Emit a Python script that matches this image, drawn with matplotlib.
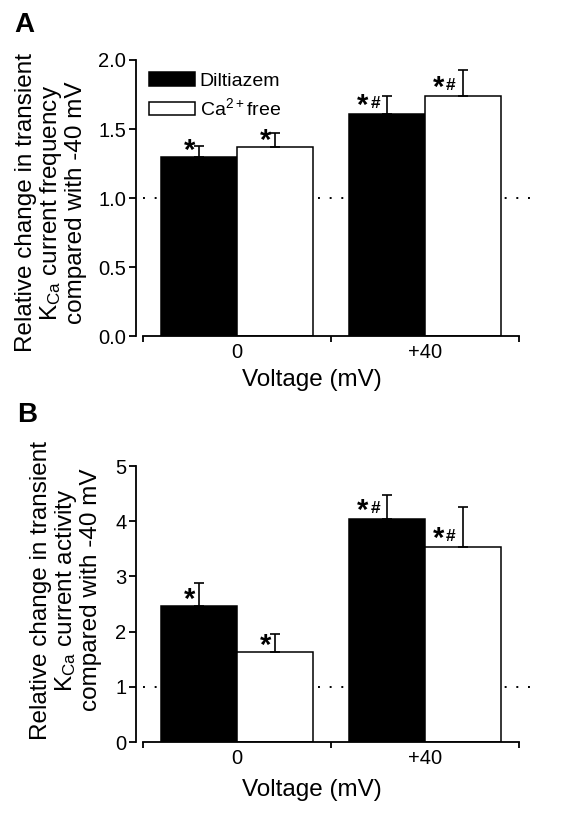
import matplotlib.pyplot as plt
import numpy as np
from matplotlib.patches import Patch

plt.rcParams['font.family'] = ['Liberation Sans', 'DejaVu Sans']
plt.rcParams['mathtext.default'] = 'regular'

groups = ["0", "+40"]
series = ["Diltiazem", "Ca$^{2+}$free"]

# panel A: frequency
freq_dil = [1.30, 1.61]
freq_dil_err = [0.08, 0.13]
freq_ca = [1.37, 1.74]
freq_ca_err = [0.10, 0.19]
freq_marks_dil = ["*", "*#"]
freq_marks_ca = ["*", "*#"]

# panel B: activity
act_dil = [2.46, 4.04]
act_dil_err = [0.42, 0.43]
act_ca = [1.63, 3.53]
act_ca_err = [0.33, 0.73]
act_marks_dil = ["*", "*#"]
act_marks_ca = ["*", "*#"]


def mark(ax, xc, v, m):
    # star (and hash) just left of the error bar, above the bar top
    if '#' in m:
        ax.annotate('#', xy=(xc, v), xytext=(-7, 6), textcoords='offset pixels',
                    ha='right', va='baseline', fontsize=12.5, fontweight='bold')
        ax.annotate('*', xy=(xc, v), xytext=(-19, 0), textcoords='offset pixels',
                    ha='right', va='baseline', fontsize=21, fontweight='bold')
    else:
        ax.annotate('*', xy=(xc, v), xytext=(-4, -2), textcoords='offset pixels',
                    ha='right', va='baseline', fontsize=21, fontweight='bold')


def draw_panel(ax, dil, dil_err, ca, ca_err, m_dil, m_ca, ymax, yticks, fmt):
    x = np.arange(len(groups))
    w = 0.404
    ax.bar(x - w / 2, dil, w, color='black', edgecolor='black', linewidth=1.1)
    ax.bar(x + w / 2, ca, w, color='white', edgecolor='black', linewidth=1.1)
    ax.errorbar(x - w / 2, dil, yerr=[np.zeros(len(dil)), dil_err], fmt='none',
                ecolor='black', elinewidth=1.2, capsize=3.5, capthick=1.2)
    ax.errorbar(x + w / 2, ca, yerr=[np.zeros(len(ca)), ca_err], fmt='none',
                ecolor='black', elinewidth=1.2, capsize=3.5, capthick=1.2)
    for i in range(len(groups)):
        mark(ax, x[i] - w / 2, dil[i], m_dil[i])
        mark(ax, x[i] + w / 2, ca[i], m_ca[i])
    ax.plot([-0.5, 1.6], [1, 1], color='black', lw=1.4, ls=(0, (1, 5)), zorder=0.5)
    ax.set_xlim(-0.537, 1.6)
    ax.set_ylim(0, ymax)
    ax.spines['top'].set_visible(False)
    ax.spines['right'].set_visible(False)
    ax.spines['bottom'].set_bounds(-0.5, 1.5)
    ax.spines['left'].set_linewidth(1.3)
    ax.spines['bottom'].set_linewidth(1.3)
    ax.set_yticks(yticks)
    ax.set_yticklabels([fmt.format(t) for t in yticks], fontsize=14.5)
    ax.set_xticks(x)
    ax.set_xticklabels(groups, fontsize=14.5)
    ax.set_xticks([-0.5, 0.5, 1.5], minor=True)
    ax.tick_params(axis='x', which='major', length=0, pad=5)
    ax.tick_params(axis='x', which='minor', length=4, width=1.3)
    ax.tick_params(axis='y', length=5, width=1.3, pad=2)


fig = plt.figure(figsize=(5.61, 8.13), dpi=100)
axA = fig.add_axes([0.2424, 0.5867, 0.716, 0.3395])
axB = fig.add_axes([0.2424, 0.0873, 0.716, 0.3395])

draw_panel(axA, freq_dil, freq_dil_err, freq_ca, freq_ca_err, freq_marks_dil, freq_marks_ca,
           2.0, [0.0, 0.5, 1.0, 1.5, 2.0], '{:.1f}')
draw_panel(axB, act_dil, act_dil_err, act_ca, act_ca_err, act_marks_dil, act_marks_ca,
           5, [0, 1, 2, 3, 4, 5], '{:.0f}')

W, H = 561, 813
lab_kw = dict(rotation=90, ha='center', va='center', multialignment='center',
              fontsize=17.5, linespacing=1.05)
fig.text(51 / W, 1 - 203 / H,
         'Relative change in transient\nK$_{Ca}$ current frequency\ncompared with -40 mV', **lab_kw)
fig.text(66 / W, 1 - 590 / H,
         'Relative change in transient\nK$_{Ca}$ current activity\ncompared with -40 mV', **lab_kw)
fig.text(312 / W, 1 - 380 / H, 'Voltage (mV)', fontsize=17.5, ha='center', va='center')
fig.text(312 / W, 1 - 790 / H, 'Voltage (mV)', fontsize=17.5, ha='center', va='center')

handles = [Patch(facecolor='black', edgecolor='black', linewidth=1.1),
           Patch(facecolor='white', edgecolor='black', linewidth=1.1)]
axA.legend(handles, series, loc='upper left', bbox_to_anchor=(13 / 401.8, 1 - 12 / 276),
           frameon=False, fontsize=14, handlelength=2.35, handleheight=0.7,
           handletextpad=0.25, labelspacing=0.4, borderaxespad=0, borderpad=0)

fig.text(14 / W, 1 - 32 / H, 'A', fontsize=20, fontweight='bold', va='baseline', ha='left')
fig.text(17 / W, 1 - 422 / H, 'B', fontsize=20, fontweight='bold', va='baseline', ha='left')

fig.savefig('out.png', dpi=100)
